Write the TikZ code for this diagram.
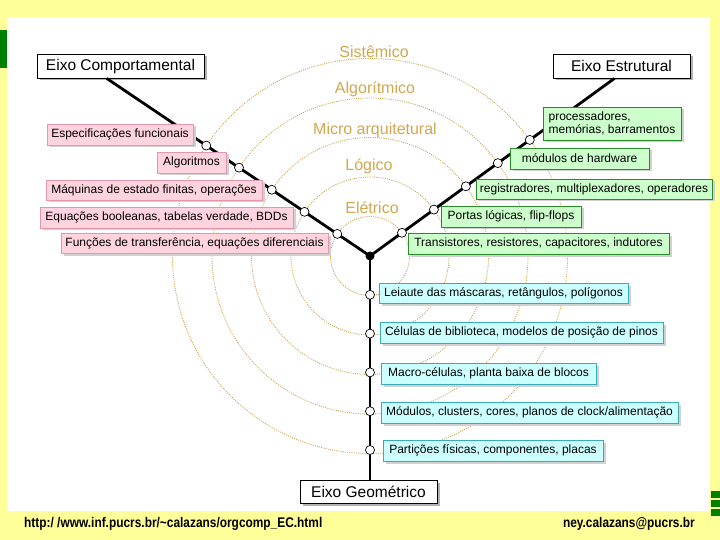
\documentclass[tikz,border=0pt]{standalone}
\usepackage{fontspec}
\setmainfont{Liberation Sans}
\newfontfamily\footfont[FakeStretch=0.85]{Liberation Sans}
\usetikzlibrary{positioning,shadows,calc}

\definecolor{slidebg}{RGB}{255,255,153}
\definecolor{tan}{RGB}{208,168,80}
\definecolor{ringtan}{RGB}{200,160,70}
\definecolor{pinkfill}{RGB}{255,212,222}
\definecolor{pinkline}{RGB}{228,150,170}
\definecolor{greenfill}{RGB}{204,255,204}
\definecolor{greenline}{RGB}{40,140,40}
\definecolor{cyanfill}{RGB}{204,255,255}
\definecolor{cyanline}{RGB}{60,170,180}
\definecolor{tabgreen}{RGB}{0,128,0}

\begin{document}
\begin{tikzpicture}[x=1pt,y=-1pt,
  ring/.style={draw=ringtan,dash pattern=on 1pt off 1.2pt,line width=0.8pt},
  axisline/.style={line width=2.8pt},
  knot/.style={circle,draw,fill=white,line width=0.7pt,inner sep=0pt,minimum size=9pt},
  level/.style={text=tan,font=\fontsize{16}{18}\selectfont},
  eixo/.style={draw,fill=white,line width=0.8pt,inner sep=0pt,minimum height=24pt,
    font=\fontsize{15.5}{18}\selectfont,
    drop shadow={shadow xshift=2.5pt,shadow yshift=-2.5pt,fill=black!30,opacity=1}},
  item/.style={line width=0.8pt,inner sep=0pt,minimum height=21pt,
    font=\fontsize{12}{13.5}\selectfont,
    drop shadow={shadow xshift=2.5pt,shadow yshift=-2.5pt,fill=black!18,opacity=1}},
  behav/.style={item,draw=pinkline,fill=pinkfill},
  struct/.style={item,draw=greenline,fill=greenfill},
  geom/.style={item,draw=cyanline,fill=cyanfill}]

\useasboundingbox (0,0) rectangle (720,540);
\fill[slidebg] (0,0) rectangle (720,540);
\fill[white] (7,17) rectangle (710,511);
\fill[tabgreen] (0,30) rectangle (7,68);
\foreach \t in {491,500,509}
  \fill[tabgreen] (711,\t) rectangle (720,\t+7);

% levels
\coordinate (O) at (370,256);
\foreach \i in {1,...,5}
  \draw[ring] (O) circle[radius=39.5*\i];

% axes
\node[eixo,minimum width=167pt] (EC) at (120.5,66) {Eixo Comportamental};
\node[eixo,minimum width=137pt] (EE) at (621.5,66) {Eixo Estrutural};
\node[eixo,minimum width=137pt,minimum height=23pt] (EG) at (368.5,491.5) {Eixo Geométrico};

\foreach \i in {1,...,5}{
  \coordinate (pcm\i) at ($(O)+(-146:39.5*\i)$);
  \coordinate (pes\i) at ($(O)+(-36:39.5*\i)$);
  \coordinate (pge\i) at ($(O)+(90:38.8*\i)$);
}
\draw[axisline] (O) -- (intersection of O--pcm5 and EC.south west--EC.south east);
\draw[axisline] (O) -- (intersection of O--pes5 and EE.south west--EE.south east);
\draw[axisline] (O) -- (O |- EG.north);

\foreach \i in {1,...,5}{
  \node[knot] (cm\i) at (pcm\i) {};
  \node[knot] (es\i) at (pes\i) {};
  \node[knot] (ge\i) at (pge\i) {};
}
\node[circle,fill,inner sep=0pt,minimum size=9pt] (ctr) at (O) {};

% comportamental
\node[behav,minimum width=146pt] (cm5box) at (120,134.5) {Especificações funcionais};
\node[behav,minimum width=69pt] (cm4box) at (191.5,162.5) {Algoritmos};
\node[behav,minimum width=216pt,minimum height=20pt] (cm3box) at (154,190) {Máquinas de estado finitas, operações};
\node[behav,minimum width=253pt] (cm2box) at (166.5,217.5) {Equações booleanas, tabelas verdade, BDDs};
\node[behav,minimum width=267pt,minimum height=20pt] (cm1box) at (194.5,243) {Funções de transferência, equações diferenciais};

% estrutural
\node[struct,minimum width=138pt,minimum height=33pt,align=left] (es5box) at (612,123.5) {processadores,\\memórias, barramentos};
\node[struct,minimum width=139pt] (es4box) at (579.5,158.5) {módulos de hardware};
\node[struct,minimum width=236pt,minimum height=20pt] (es3box) at (594,189) {registradores, multiplexadores, operadores};
\node[struct,minimum width=140pt] (es2box) at (511,216.5) {Portas lógicas, flip-flops};
\node[struct,minimum width=261pt] (es1box) at (538.5,243.5) {Transistores, resistores, capacitores, indutores};

% geometrico
\node[geom,minimum width=249pt,minimum height=20pt] (ge1box) at (503.5,293) {Leiaute das máscaras, retângulos, polígonos};
\node[geom,minimum width=283pt] (ge2box) at (521.5,332.5) {Células de biblioteca, modelos de posição de pinos};
\node[geom,minimum width=215pt] (ge3box) at (488.5,373.5) {Macro-células, planta baixa de blocos};
\node[geom,minimum width=297pt] (ge4box) at (529.5,412.5) {Módulos, clusters, cores, planos de clock/alimentação};
\node[geom,minimum width=220pt] (ge5box) at (493,450.5) {Partições físicas, componentes, placas};

% niveis
\node[level] (sis) at (374,52) {Sistêmico};
\node[level] (alg) at (375,89) {Algorítmico};
\node[level] (mic) at (375,130) {Micro arquitetural};
\node[level] (log) at (369,166) {Lógico};
\node[level] (ele) at (372,208) {Elétrico};

% rodape
\node[font=\footfont\bfseries\fontsize{14}{16}\selectfont,anchor=west,inner sep=0pt] (url) at (24,524) {http:/ /www.inf.pucrs.br/\textasciitilde calazans/orgcomp\_EC.html};
\node[font=\footfont\bfseries\fontsize{14}{16}\selectfont,anchor=east,inner sep=0pt] (mail) at (695,524) {ney.calazans@pucrs.br};
\end{tikzpicture}
\end{document}
